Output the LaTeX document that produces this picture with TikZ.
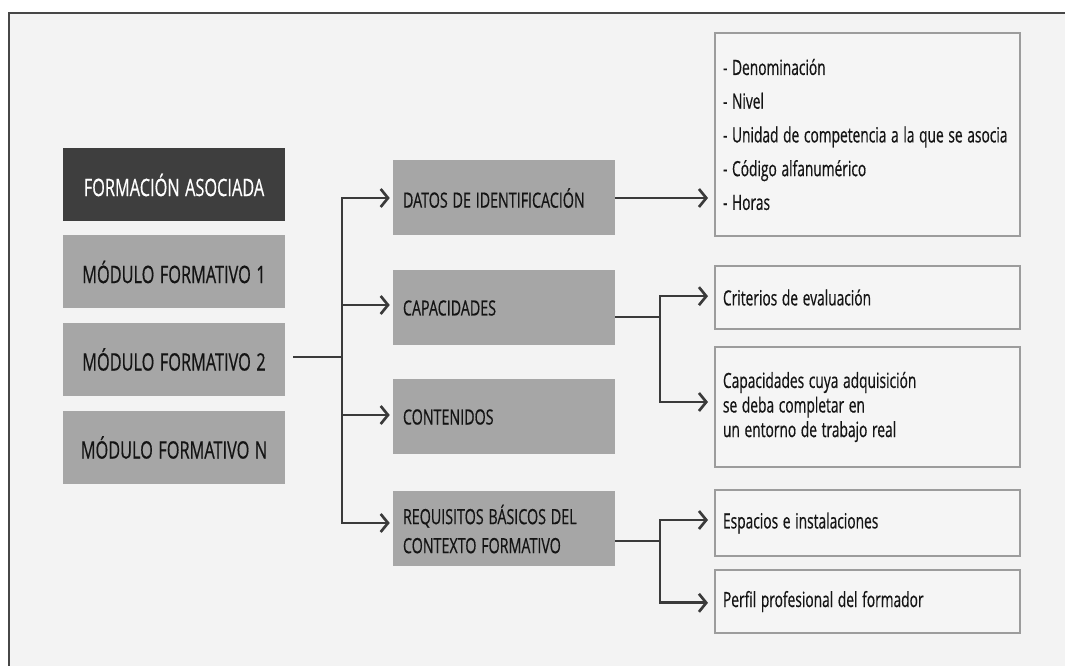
\documentclass[tikz,border=0pt]{standalone}
\usepackage{fontspec}
\setmainfont{Open Sans}[FakeStretch=0.68, WordSpace=1.3, FakeBold=0.5]
\newfontfamily\listfont{Open Sans}[FakeStretch=0.655, WordSpace=1.3, FakeBold=0.5]
\usetikzlibrary{arrows.meta}
\definecolor{pagebg}{HTML}{F3F3F3}
\definecolor{framecol}{HTML}{474747}
\definecolor{darkfill}{HTML}{3E3E3E}
\definecolor{greyfill}{HTML}{A6A6A6}
\definecolor{listfill}{HTML}{F5F5F5}
\definecolor{listedge}{HTML}{9C9C9C}
\definecolor{linecol}{HTML}{3A3A3A}
\definecolor{textcol}{HTML}{141414}
\begin{document}
\begin{tikzpicture}[x=0.75pt,y=-0.75pt,
  leftbox/.style={fill=greyfill, minimum width=166.5pt, minimum height=54.75pt,
    inner sep=0pt, text=textcol, font=\fontsize{18}{21}\selectfont},
  headbox/.style={leftbox, fill=darkfill, text=white},
  midbox/.style={fill=greyfill, minimum width=166.5pt, minimum height=56.25pt,
    inner xsep=7.5pt, inner ysep=0pt, text width=151.5pt, align=flush left,
    text=textcol, font=\fontsize{15.75}{21.75}\selectfont},
  listbox/.style={draw=listedge, line width=1.5pt, fill=listfill,
    minimum width=228.75pt, inner xsep=6pt, inner ysep=0pt,
    text width=216.75pt, align=flush left, text=textcol,
    font=\listfont\fontsize{15.75}{18.4}\selectfont},
  conn/.style={draw=linecol, line width=2pt},
  arrmid/.style={conn, -{Straight Barb[length=5.5pt,width=13.5pt]}, shorten >=2.25pt},
  arrright/.style={conn, -{Straight Barb[length=5.5pt,width=13.5pt]}, shorten >=4.5pt}
]
\useasboundingbox (0,0) rectangle (1065,666);
% page and frame
\fill[white] (0,0) rectangle (1065,666);
\fill[pagebg] (9,13) rectangle (1065,666);
\draw[framecol, line width=1.6pt] (1065,13) -- (9,13) -- (9,666);

% left column
\node[headbox] (fa)  at (174,185)   {FORMACIÓN ASOCIADA};
\node[leftbox] (mf1) at (174,272)   {MÓDULO FORMATIVO 1};
\node[leftbox] (mf2) at (174,359.5) {MÓDULO FORMATIVO 2};
\node[leftbox] (mfn) at (174,447.5) {MÓDULO FORMATIVO N};

% middle column
\node[midbox] (datos) at (504,198) {DATOS DE IDENTIFICACIÓN};
\node[midbox] (cap)   at (504,308) {CAPACIDADES};
\node[midbox] (cont)  at (504,417) {CONTENIDOS};
\node[midbox] (req)   at (504,529) {REQUISITOS BÁSICOS DEL\\CONTEXTO FORMATIVO};

% right column
\node[listbox, minimum height=152.25pt, font=\listfont\fontsize{15.75}{25.3}\selectfont]
  (ident) at (867.5,134.5)
  {- Denominación\\- Nivel\\\mbox{- Unidad de competencia a la que se asocia}\\- Código alfanumérico\\- Horas};
\node[listbox, minimum height=47.25pt] (crit) at (867.5,297.5) {Criterios de evaluación};
\node[listbox, minimum height=90pt] (cuya) at (867.5,407)
  {Capacidades cuya adquisición\\se deba completar en\\un entorno de trabajo real};
\node[listbox, minimum height=49.5pt] (esp) at (867.5,523) {Espacios e instalaciones};
\node[listbox, minimum height=47.25pt] (perf) at (867.5,601.5) {Perfil profesional del formador};

% connectors from the module to its parts
\coordinate (j1) at (342,357);
\draw[conn] ([xshift=6pt]mf2.east |- j1) -- (j1);
\draw[arrmid] (j1) |- (datos.west);
\draw[arrmid] (j1) |- ([yshift=2.25pt]cap.west);
\draw[arrmid] (j1) |- ([yshift=1.5pt]cont.west);
\draw[arrmid] (j1) |- ([yshift=4.5pt]req.west);

% connectors to the detail boxes
\draw[arrright] (datos.east) -- (ident.west |- datos.east);
\coordinate (j2) at (660,317);
\draw[conn] (cap.east |- j2) -- (j2);
\draw[arrright] (j2) |- ([yshift=1pt]crit.west);
\draw[arrright] (j2) |- ([yshift=3.75pt]cuya.west);
\coordinate (j3) at (660,541);
\draw[conn] (req.east |- j3) -- (j3);
\draw[arrright] (j3) |- ([yshift=2.25pt]esp.west);
\draw[arrright] (j3) |- ([yshift=-1pt]perf.west);
\end{tikzpicture}
\end{document}
